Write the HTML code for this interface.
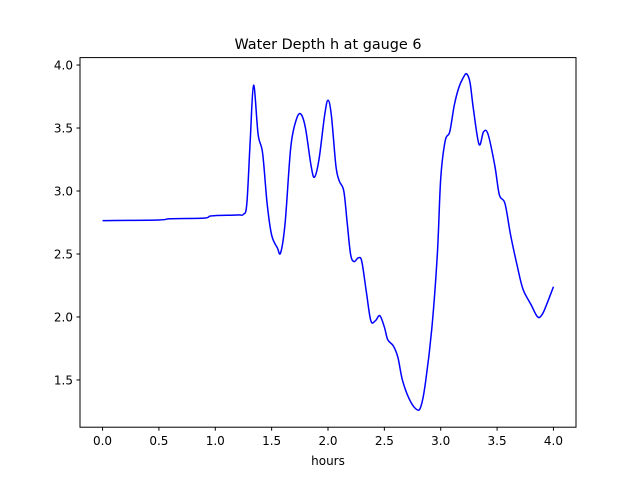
<!DOCTYPE html>
<html><head><meta charset="utf-8"><style>
body{margin:0;background:#fff;}
svg text{font-family:"DejaVu Sans","Liberation Sans",sans-serif;}
</style></head><body>
<svg id="chart" width="640" height="480" xmlns="http://www.w3.org/2000/svg">
<rect width="640" height="480" fill="#fff"/>
<text x="328" y="49" text-anchor="middle" font-size="14.4">Water Depth h at gauge 6</text>
<g id="plot"></g>
<rect x="80" y="57.6" width="496" height="369.6" fill="none" stroke="#000" stroke-width="1"/>
<text x="328" y="465" text-anchor="middle" font-size="12">hours</text>
</svg>
<script>
const xTicks=[0,0.5,1,1.5,2,2.5,3,3.5,4];
const yTicks=[1.5,2.0,2.5,3.0,3.5,4.0];
const hours=[0,0.5,0.6,0.9,0.95,1.0,1.2,1.25,1.28,1.31,1.34,1.38,1.42,1.46,1.5,1.55,1.58,1.62,1.67,1.72,1.76,1.8,1.85,1.88,1.92,1.97,2.0,2.03,2.07,2.1,2.14,2.17,2.2,2.23,2.27,2.3,2.34,2.38,2.42,2.46,2.5,2.53,2.58,2.62,2.66,2.72,2.78,2.82,2.86,2.92,2.97,3.0,3.04,3.08,3.12,3.16,3.2,3.23,3.26,3.29,3.34,3.38,3.42,3.48,3.52,3.57,3.62,3.68,3.73,3.8,3.86,3.9,3.94,4.0];
const depth=[2.765,2.77,2.78,2.785,2.8,2.805,2.81,2.815,2.9,3.4,3.84,3.45,3.3,2.9,2.65,2.55,2.51,2.75,3.35,3.57,3.61,3.5,3.2,3.11,3.25,3.6,3.72,3.6,3.2,3.08,3.0,2.75,2.5,2.44,2.47,2.44,2.2,1.97,1.97,2.01,1.92,1.82,1.77,1.68,1.5,1.35,1.27,1.28,1.45,1.9,2.5,3.1,3.4,3.47,3.68,3.82,3.9,3.93,3.86,3.65,3.37,3.47,3.45,3.2,2.97,2.9,2.65,2.4,2.22,2.1,2.0,2.02,2.1,2.24];
const X=v=>80+(v+0.2)/4.4*496;
const Y=v=>427.2-(v-1.125)/(4.059-1.125)*369.6;
const g=document.getElementById('plot');
const NS='http://www.w3.org/2000/svg';
function mk(t,a){const e=document.createElementNS(NS,t);for(const k in a)e.setAttribute(k,a[k]);g.appendChild(e);return e;}
xTicks.forEach(v=>{
 const l=mk('line',{x1:X(v),x2:X(v),y1:427.2,y2:430.7,stroke:'#000'});
 
 
 const t=mk('text',{x:X(v),y:445,'text-anchor':'middle','font-size':12});
 t.textContent=v.toFixed(1);
 
 
});
yTicks.forEach(v=>{
 const l=mk('line',{x1:76.5,x2:80,y1:Y(v),y2:Y(v),stroke:'#000'});
 
 
 const t=mk('text',{x:73,y:Y(v)+4.5,'text-anchor':'end','font-size':12});
 t.textContent=v.toFixed(1);
 
 
});
const pts=hours.map((h,i)=>[X(h),Y(depth[i])]);
let d='M'+pts[0][0]+','+pts[0][1];
for(let i=0;i<pts.length-1;i++){
 const p0=pts[i-1]||pts[i],p1=pts[i],p2=pts[i+1],p3=pts[i+2]||p2;
 const c1=[p1[0]+(p2[0]-p0[0])/6,p1[1]+(p2[1]-p0[1])/6];
 const c2=[p2[0]-(p3[0]-p1[0])/6,p2[1]-(p3[1]-p1[1])/6];
 d+=` C${c1[0]},${c1[1]} ${c2[0]},${c2[1]} ${p2[0]},${p2[1]}`;
}
const path=mk('path',{d:d,fill:'none',stroke:'#0000ff','stroke-width':1.5});


</script>
</body></html>
